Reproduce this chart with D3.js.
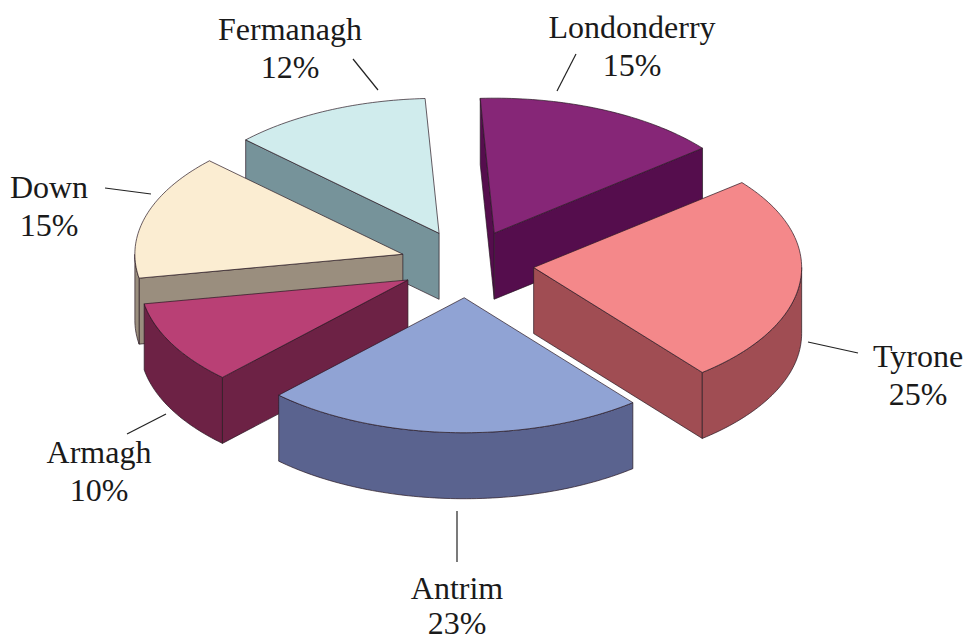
<!DOCTYPE html>
<html>
<head>
<meta charset="utf-8">
<title>Counties</title>
<script src="https://cdn.jsdelivr.net/npm/d3@7/dist/d3.min.js"></script>
<style>
    html, body { margin: 0; padding: 0; background: #fff; overflow: hidden; }
    text { font-family: "Liberation Serif", serif; font-size: 32px; fill: #1a1a1a; }
</style>
</head>
<body>
<svg id="chart" width="969" height="642"></svg>
<script>
    var categories = ["Londonderry", "Tyrone", "Antrim", "Armagh", "Down", "Fermanagh"];
    var shares = [15, 25, 23, 10, 15, 12];
    var topColors = ["#862577", "#f4888a", "#90a3d4", "#b93f74", "#fbedd2", "#d0eced"];
    var sideColors = ["#540c4d", "#a04d52", "#5a638f", "#6d2044", "#9a8e7e", "#76939a"];

    // back to front, indexes into the arrays above
    var paintOrder = [5, 0, 4, 1, 3, 2];

    var centerX = 467, centerY = 264, radiusX = 268, radiusY = 135;
    var depth = 66, explode = 0.25;
    var firstAngle = -3 * Math.PI / 180;

    // label blocks and their leader lines, by category index
    var labelLayout = [
        { x: 632, y: 38, gap: 38, line: [576, 54, 557, 91] },
        { x: 918, y: 367, gap: 38, line: [808, 342, 858, 353] },
        { x: 457, y: 599, gap: 35, line: [457, 511, 457, 562] },
        { x: 99, y: 463, gap: 38, line: [127, 434, 166, 414] },
        { x: 49, y: 198, gap: 38, line: [105, 188, 151, 194] },
        { x: 290, y: 40, gap: 38, line: [353, 59, 378, 90] }
    ];

    var svg = d3.select("#chart");

    var defs = svg.append("defs");
    defs.append("filter")
        .attr("id", "soft")
        .append("feGaussianBlur")
        .attr("stdDeviation", 0.45);

    // unit circle -> squashed ellipse on screen
    var x = d3.scaleLinear().domain([-1, 1]).range([centerX - radiusX, centerX + radiusX]);
    var y = d3.scaleLinear().domain([-1, 1]).range([centerY - radiusY, centerY + radiusY]);

    var pie = d3.pie()
        .sort(null)
        .startAngle(firstAngle)
        .endAngle(firstAngle + 2 * Math.PI);
    var arcs = pie(shares);

    var line = d3.line();

    function rimPoints(from, to, offsetX, offsetY, drop) {
        var steps = Math.max(1, Math.ceil((to - from) / 0.02));
        return d3.range(steps + 1).map(function (i) {
            var a = from + (to - from) * i / steps;
            return [x(Math.sin(a) + offsetX), y(-Math.cos(a) + offsetY) + drop];
        });
    }

    function styleFace(selection, fill) {
        selection
            .attr("fill", fill)
            .attr("stroke", "#2a1a24")
            .attr("stroke-opacity", 0.7)
            .attr("stroke-width", 1)
            .attr("stroke-linejoin", "round");
    }

    // only the lower half of the rim faces the viewer
    function outerWall(d, offsetX, offsetY) {
        var from = Math.max(d.startAngle, Math.PI / 2);
        var to = Math.min(d.endAngle, 3 * Math.PI / 2);
        if (to <= from) return null;
        var upper = rimPoints(from, to, offsetX, offsetY, 0);
        var lower = rimPoints(from, to, offsetX, offsetY, depth);
        return upper.concat(lower.reverse());
    }

    function drawSlice(i) {
        var d = arcs[i];
        var mid = (d.startAngle + d.endAngle) / 2;
        var offsetX = Math.sin(mid) * explode;
        var offsetY = -Math.cos(mid) * explode;
        var apex = [x(offsetX), y(offsetY)];
        var apexLow = [apex[0], apex[1] + depth];
        var upper = rimPoints(d.startAngle, d.endAngle, offsetX, offsetY, 0);
        var lower = rimPoints(d.startAngle, d.endAngle, offsetX, offsetY, depth);

        var walls = [];
        if (Math.sin(d.startAngle) < 0) {
            walls.push([apex, upper[0], lower[0], apexLow]);
        }
        if (Math.sin(d.endAngle) > 0) {
            walls.push([apex, upper[upper.length - 1], lower[lower.length - 1], apexLow]);
        }
        var rim = outerWall(d, offsetX, offsetY);
        if (rim) walls.push(rim);

        var g = svg.append("g").attr("class", "slice").attr("filter", "url(#soft)");
        g.selectAll("path.wall")
            .data(walls)
            .enter().append("path")
            .attr("class", "wall")
            .attr("d", function (w) { return line(w) + "Z"; })
            .call(styleFace, sideColors[i]);

        g.append("path")
            .attr("class", "top")
            .attr("d", line([apex].concat(upper)) + "Z")
            .call(styleFace, topColors[i]);
    }

    paintOrder.forEach(drawSlice);

    labelLayout.forEach(function (l, i) {
        svg.append("line")
            .attr("x1", l.line[0])
            .attr("y1", l.line[1])
            .attr("x2", l.line[2])
            .attr("y2", l.line[3])
            .attr("stroke", "#222")
            .attr("stroke-width", 1.2);
        var label = svg.append("text")
            .attr("text-anchor", "middle")
            .attr("x", l.x)
            .attr("y", l.y);
        label.append("tspan").attr("x", l.x).text(categories[i]);
        label.append("tspan").attr("x", l.x).attr("dy", l.gap).text(shares[i] + "%");
    });
</script>
</body>
</html>
